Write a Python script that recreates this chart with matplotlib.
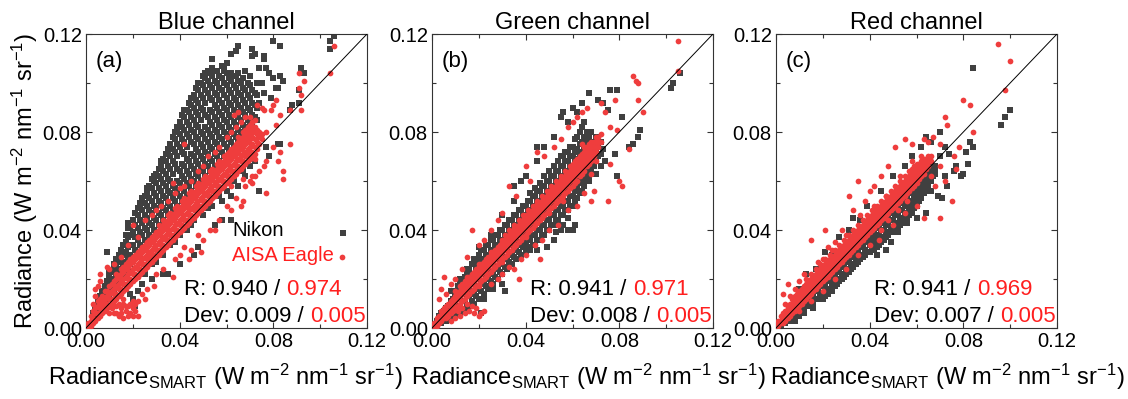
import matplotlib
matplotlib.use('Agg')
import matplotlib.pyplot as plt
import numpy as np
from matplotlib.ticker import MultipleLocator

plt.rcParams['font.family'] = ['Liberation Sans', 'DejaVu Sans']
plt.rcParams['mathtext.default'] = 'regular'

# ---------------- data (values in 1e-3 W m-2 nm-1 sr-1) ----------------
titles = ["Blue channel", "Green channel", "Red channel"]
panel_labels = ["(a)", "(b)", "(c)"]
r_nikon = ["0.940", "0.941", "0.941"]
r_aisa = ["0.974", "0.971", "0.969"]
dev_nikon = ["0.009", "0.008", "0.007"]
dev_aisa = ["0.005", "0.005", "0.005"]
tick_values = [0.00, 0.04, 0.08, 0.12]
tick_labels = ["0.00", "0.04", "0.08", "0.12"]

# ---- (a) Blue channel ----
blue_nikon_cols = [
 (3,[4,6]),(4,[5,8]),(5,[6,9,11]),(6,[8,11,13]),(7,[9,12,15]),(8,[10,14,17]),(9,[12,16,19,31]),
 (10,[13,17,21,23]),(11,[15,19,23]),(12,[16,20,24,26]),(13,[17,21,25,28]),(14,[19,23,27,30]),
 (15,[20,24,28,32]),(16,[22,26,30,34]),(17,[23,27,31,35,38]),(18,[25,29,33,37,41,43]),
 (19,[26,30,34,38,41]),(20,[29,34,39,44]),(21,[32,37,42,47]),(22,[31,36,41,46,49]),
 (23,[34,39,44,49,51]),(24,[33,38,43,48,53]),(25,[36,41,46,51,54]),(26,[35,40,45,50,55,57]),
 (27,[38,43,48,53,58]),(28,[37,42,47,52,57,61]),(29,[40,45,50,55,60,62]),(30,[39,44,49,54,59,63]),
 (31,[42,47,52,57,62,65]),(32,[41,46,51,56,61,66,68]),(33,[44,49,54,59,64,69]),
 (34,[43,48,53,58,63,68,71]),(35,[46,51,56,61,66,71,73]),(36,[45,50,55,60,65,70,75]),
 (37,[48,53,58,63,68,73,78]),(38,[47,52,57,67,72,77,80]),(39,[50,55,60,65,70,75,80,82]),
 (40,[49,54,59,64,74,79,84]),(41,[52,57,62,67,72,77,82,87]),(42,[51,56,61,66,71,76,81,86,89]),
 (43,[54,59,64,69,74,79,84,89]),(44,[53,58,63,68,78,83,88,92]),(45,[56,61,66,71,76,81,86,91,94]),
 (46,[55,60,65,70,75,80,85,90,95]),(47,[58,63,68,73,78,83,88,93,98]),(48,[57,62,67,72,77,82,87,92,97,100]),
 (49,[60,65,70,75,80,85,90,95,100]),(50,[59,64,69,74,79,89,94,99,103]),
 (51,[62,67,72,77,82,87,92,97,102,104]),(52,[61,66,71,76,81,86,96,101,105]),
 (53,[64,69,74,79,84,89,94,99,104]),(54,[63,68,73,78,83,88,93,98,103,106]),
 (55,[66,71,76,81,86,91,96,101,105]),(56,[65,70,75,80,85,90,95,100,105]),(57,[68,73,78,83,88,93,98,103]),
 (58,[67,72,77,82,87,92,97,102,107]),(59,[70,75,80,85,90,95,100,105]),(60,[69,74,79,84,89,94,99,104,108]),
 (61,[72,77,82,87,92,97,102]),(62,[71,76,81,86,91,96,101,104,112]),(63,[74,79,84,89,94,99,103]),
 (64,[73,78,83,88,93,98,103,113]),(65,[76,81,86,91,96,101,104,115]),(66,[75,80,85,90,95,100]),
 (67,[78,83,88,93,98,102]),(68,[77,82,87,92,97]),(69,[80,85,90,95,100]),(70,[79,84,89,94,99,103]),
 (71,[82,87,92,97]),(72,[81,86,91,96]),(73,[85,90,95,100])]
blue_nikon_extra = [
 (20,12),(21,9),(19,14),(22,15),(25,22),(28,26),(33,22),(33,30),(36,34),(40,38),(43,40),(46,44),(50,46),
 (54,50),(58,52),(60,56),(62,54),(65,58),(68,62),(70,66),(72,68),(58,44),(62,44),(55,42),(46,30),(48,33),
 (40,26),(35,22),(28,20),(24,18),(74,56),(78,70),(83,75),(30,27),(38,35),(45,42),(52,49),(57,54),(63,60),
 (67,64),(80,117),(83,115),(71,114),(72,112),(76,111),(71,111),(76,110),(74,106),(77,106),(78,104),
 (80,102),(83,103),(84,101),(82,98),(81,98),(92,106),(93,104),(91,97),(91,92),(88,91),(87,89),(82,75),
 (77,74),(79,94),(104,117),(104,114),(106,119),(54,110),(59,107),(68,105),(75,100),(76,96),(74,92)]

blue_aisa_cols = [
 (1,[1,2]),(2,[1,3,5]),(3,[2,4,7]),(4,[3,6,8]),(5,[4,6,9,11]),(6,[5,8,10,12]),(7,[6,8,11,13]),
 (8,[7,10,12,15]),(9,[8,10,13,15]),(10,[9,12,14,17]),(11,[10,12,15,18]),(12,[11,14,16,19]),
 (13,[12,14,17,20,22]),(14,[13,16,18,21]),(15,[14,16,19,22,24]),(16,[15,18,20,23,25]),
 (17,[16,18,21,24,26]),(18,[17,20,22,25,27]),(19,[18,20,23,26,28]),(20,[19,22,24,27,29]),
 (21,[20,22,25,28,30]),(22,[21,24,26,29,31]),(23,[22,24,27,30,32]),(24,[23,26,28,31,33]),
 (25,[24,26,29,32,34]),(26,[25,28,30,33,35]),(27,[26,28,31,34,36]),(28,[27,30,32,35,37]),
 (29,[28,30,33,36,38]),(30,[29,32,34,37,39]),(31,[30,32,35,38,40,42]),(32,[31,34,36,39,41]),
 (33,[32,34,37,40,42,44]),(34,[33,36,38,41,43]),(35,[34,36,39,42,44,46]),(36,[35,38,40,43,45,47]),
 (37,[36,38,41,44,46]),(38,[37,40,42,45,47,49]),(39,[38,40,43,46,48,50]),(40,[39,42,44,47,49]),
 (41,[40,42,45,48,50,52]),(42,[41,44,46,49,51,53]),(43,[42,44,47,50,52]),(44,[43,46,48,51,53,55]),
 (45,[44,46,49,52,54,56]),(46,[45,48,50,53,55]),(47,[46,48,51,54,56,58]),(48,[47,50,52,55,57,59]),
 (49,[48,50,53,56,58]),(50,[49,52,54,57,59,61]),(51,[50,52,55,58,60,62]),(52,[51,54,56,59,61]),
 (53,[52,54,57,60,62,64]),(54,[53,56,58,61,63,65]),(55,[54,56,59,62,64]),(56,[55,58,60,63,65,67]),
 (57,[56,58,61,64,66,68]),(58,[57,60,62,65,67]),(59,[58,60,63,66,68,70]),(60,[59,62,64,67,69,71]),
 (61,[60,62,65,68,70,72]),(62,[61,64,66,69,71,73]),(63,[62,64,67,70,72,74]),(64,[63,66,68,71,73,75]),
 (65,[64,66,69,72,74,76,78]),(66,[65,68,70,73,75,77]),(67,[66,68,71,74,76,78,80]),
 (68,[67,70,72,75,77,79,81]),(69,[68,70,73,76,78,80,82]),(70,[69,72,74,77,79,81,83]),
 (71,[70,72,75,78,80,82,84]),(72,[71,74,77,80,82,85]),(73,[73,76,79,81]),(74,[75,78,80]),(75,[77,79])]
blue_aisa_extra = [
 (3,10),(4,13),(5,17),(4,16),(6,22),(6,19),(9,25),(10,24),(12,26),(15,29),(18,34),(20,42),(22,37),(25,44),
 (28,46),(30,48),(32,50),(35,52),(37,59),(38,55),(40,57),(42,75),(42,58),(45,60),(48,64),(50,66),(52,70),
 (55,72),(57,74),(60,78),(62,80),(63,87),(64,82),(66,84),(68,86),(70,86),(65,88),(75,90),(73,91),
 (14,5),(15,8),(16,10),(17,7),(18,9),(19,6),(20,8),(21,7),(22,5),(12,6),(13,9),(10,6),(11,8),(16,4),(18,5),
 (20,5),(13,6),(15,6),(17,9),(19,10),(21,10),(14,10),(16,12),(20,11),(22,11),(24,14),(26,16),(25,12),
 (29,17),(30,22),(33,24),(37,21),(38,28),(40,30),(42,33),(44,28),(45,32),(49,31),(48,38),(50,36),(53,40),
 (55,40),(57,44),(60,50),(62,48),(64,53),(66,50),(68,58),(70,60),(72,62),(74,64),(76,66),(77,55),(71,59),
 (67,52),(71,62),(84,64),(84,61),(87,75),(83,72),(80,74),(82,68),(77,68),(62,58),
 (91,104),(93,101),(91,98),(92,95),(92,89),(87,89),(81,93),(80,91),(79,89),(83,87),(76,89),(77,80),
 (81,83),(104,104),(106,115),(72,69),(67,61)]

# ---- (b) Green channel ----
green_nikon_cols = [
 (2,[1,3]),(3,[2,5]),(4,[2,6]),(5,[3,7]),(6,[3,8]),(7,[4,9]),(8,[4,7,11]),(9,[5,8,12]),(10,[5,8,13,15]),
 (11,[6,9,15,17]),(12,[6,9,15,18]),(13,[7,11,17,20]),(14,[7,11,18,21]),(15,[9,13,20,23]),(16,[9,13,20,24]),
 (17,[11,15,22,26]),(18,[10,14,22,26,28]),(19,[13,17,24,28]),(20,[12,16,26,30]),(21,[15,19,28,32]),
 (22,[14,18,28,32]),(23,[17,21,30,34]),(24,[16,20,30,34]),(25,[19,23,32,36]),(26,[18,22,32,36]),
 (27,[21,25,34,38]),(28,[20,24,34,38]),(29,[23,27,36,40]),(30,[22,26,36,40]),(31,[25,29,38,42]),
 (32,[24,28,38,42]),(33,[27,31,40,44]),(34,[26,30,40,44]),(35,[29,33,42,46]),(36,[28,32,42,46]),
 (37,[31,35,44,48]),(38,[30,34,44,48]),(39,[33,37,46,50]),(40,[31,35,39,46,50]),(41,[33,37,41,48,52]),
 (42,[32,36,40,48,52,55]),(43,[34,38,42,50,54]),(44,[34,38,42,50,54,57]),(45,[36,40,44,52,56]),
 (46,[36,40,44,52,56,59]),(47,[38,42,46,54,58]),(48,[38,42,46,54,58,62]),(49,[40,44,48,56,60]),
 (50,[40,44,48,56,60,64]),(51,[42,46,50,58,62]),(52,[42,46,50,58,62,66]),(53,[44,48,52,60,64]),
 (54,[44,48,52,60,64,68]),(55,[46,50,54,62,66,70]),(56,[46,50,54,62,66,70]),(57,[48,52,56,64,68,72]),
 (58,[48,52,56,64,68,72]),(59,[50,54,58,66,70,74]),(60,[50,54,58,66,70,74]),(61,[52,56,60,68,72,77]),
 (62,[53,57,61,69,73,78]),(63,[55,59,63,71,75,80]),(64,[56,60,64,72,76,82]),(65,[58,62,66,74,78,84]),
 (66,[60,64,68,76,80]),(67,[62,66,70,78]),(68,[64,68,72,80]),(69,[66,70,76]),(70,[68,72,78]),
 (71,[70,74]),(72,[71,76])]
green_nikon_extra = [
 (8,15),(12,20),(15,24),(20,33),(25,38),(30,46),(35,52),(35,58),(38,60),(40,62),(45,68),(45,74),
 (48,74),(52,78),(55,86),(56,88),(58,84),(60,90),(62,88),(64,92),(65,84),(67,96),(76,97),(79,97),(71,93),
 (73,92),(75,89),(81,86),(89,81),(88,78),(86,75),(84,74),(78,71),(79,62),(73,73),(102,98),(103,100),
 (106,104),(58,40),(60,40),(61,42),(55,40),(52,36),(49,33),(45,32),(31,15),(30,18),(26,16),(21,6),(22,12),
 (18,10),(67,60),(70,63),(74,68),(72,66),(58,45),(64,55),(56,42),(53,39)]

green_aisa_cols = [
 (1,[1,2]),(2,[1,3,4]),(3,[2,4,5]),(4,[3,5,7]),(5,[4,6,8]),(6,[4,6,9]),(7,[5,7,10]),(8,[6,8,11]),
 (9,[7,10,12]),(10,[8,11,13]),(11,[9,12,14]),(12,[10,13,15,17]),(13,[11,14,16,18]),(14,[12,15,17,19]),
 (15,[13,16,18,20]),(16,[14,17,19,21]),(17,[15,18,20,22]),(18,[16,19,21,23]),(19,[17,20,22,24]),
 (20,[18,21,23,25]),(21,[19,22,24,26]),(22,[20,23,25,27]),(23,[21,24,26,28]),(24,[22,25,27,29]),
 (25,[23,26,28,30]),(26,[24,27,29,31]),(27,[25,28,30,32]),(28,[26,29,31,33]),(29,[27,30,32,34]),
 (30,[28,31,33,35]),(31,[29,32,34,36,38]),(32,[30,33,35,37]),(33,[31,34,36,38,40]),(34,[32,35,37,39]),
 (35,[33,36,38,40,42]),(36,[34,37,39,41]),(37,[35,38,40,42,44]),(38,[36,39,41,43]),(39,[37,40,42,44,46]),
 (40,[38,41,43,45]),(41,[39,42,44,46,48]),(42,[40,43,45,47]),(43,[41,44,46,48,50]),(44,[42,45,47,49]),
 (45,[43,46,48,50,52]),(46,[44,47,49,51]),(47,[45,48,50,52,54]),(48,[46,49,51,53]),(49,[47,50,52,54,56]),
 (50,[48,51,53,55]),(51,[49,52,54,56,58]),(52,[50,53,55,57]),(53,[51,54,56,58,60]),(54,[52,55,57,59]),
 (55,[53,56,58,60,62]),(56,[54,57,59,61]),(57,[55,58,60,62,64]),(58,[56,59,61,63]),(59,[57,60,62,64,66]),
 (60,[58,61,63,65,67]),(61,[59,62,64,66,68]),(62,[60,63,65,67,69]),(63,[62,64,66,68,70]),
 (64,[63,65,67,69,71]),(65,[64,66,68,70,72,74]),(66,[66,68,70,72,74]),(67,[67,69,71,73,75]),
 (68,[68,70,72,74,76]),(69,[70,72,74,76]),(70,[72,74,76,78]),(71,[74,76,78]),(72,[76,79])]
green_aisa_extra = [
 (3,12),(4,16),(5,21),(6,14),(8,18),(10,20),(13,24),(17,40),(15,29),(20,34),(22,36),(25,40),(28,44),(30,47),
 (33,58),(36,54),(40,66),(42,60),(45,72),(48,70),(52,74),(55,77),(58,82),(60,84),(62,86),(64,88),(66,90),
 (86,103),(88,100),(87,101),(88,93),(90,88),(78,93),(76,82),(79,81),(84,73),(80,60),(81,58),(75,52),
 (68,52),(69,56),(76,67),(68,63),(70,68),(105,105),(105,117),(74,88),(72,92),
 (8,3),(10,4),(12,5),(14,6),(16,7),(18,6),(20,5),(21,6),(22,7),(19,8),(17,9),(15,10),(13,8),(11,7),(25,18),
 (28,20),(30,22),(33,25),(37,20),(35,24),(38,28),(40,30),(44,34),(46,28),(47,36),(50,40),(54,42),(58,48),
 (62,50),(65,55),(10,15),(15,21),(20,26),(25,31),(30,36),(35,41),(40,46),(45,51),(50,56),(55,61),(60,66),
 (64,75),(20,17),(30,27),(40,37),(50,47),(56,52)]

# ---- (c) Red channel ----
red_nikon_cols = [
 (1,[1]),(2,[1,2]),(3,[2,3]),(4,[2,4]),(5,[3,4]),(6,[3,5]),(7,[4,6]),(8,[4,6]),(9,[5,7]),(10,[5,8]),
 (11,[7,9]),(12,[7,10]),(13,[9,11]),(14,[9,12]),(15,[10,13]),(16,[10,14]),(17,[12,15]),(18,[12,16]),
 (19,[14,17]),(20,[14,18]),(21,[13,17,19]),(22,[14,16,20]),(23,[15,19,21]),(24,[16,18,22]),(25,[17,21,23]),
 (26,[18,20,24]),(27,[19,23,25]),(28,[20,22,26]),(29,[21,25,27]),(30,[22,24,28]),(31,[23,27,29]),
 (32,[24,26,30]),(33,[25,29,31]),(34,[26,28,32]),(35,[27,31,33]),(36,[28,30,34]),(37,[29,33,35]),
 (38,[30,32,36]),(39,[31,35,37]),(40,[31,34,38]),(41,[32,35,37,39]),(42,[32,34,36,40]),(43,[33,36,38,41]),
 (44,[34,35,38,42]),(45,[35,37,40,43]),(46,[36,37,40,44]),(47,[37,39,42,45]),(48,[38,39,42,46]),
 (49,[39,41,44,47]),(50,[39,41,44,48]),(51,[40,43,46,49]),(52,[41,43,46,50]),(53,[42,45,48,51]),
 (54,[43,45,48,52]),(55,[44,47,50,53]),(56,[45,47,50,54]),(57,[46,49,52,55]),(58,[47,49,52,56]),
 (59,[49,51,54,57]),(60,[50,52,55,58]),(61,[52,54,57,59]),(62,[53,56,58,60]),(63,[55,58,61]),
 (64,[56,59,62]),(65,[58,61,63]),(66,[60,62,64]),(67,[62,64,66]),(68,[63,66])]
red_nikon_extra = [
 (8,3),(12,6),(16,8),(20,12),(24,15),(28,20),(32,24),(36,28),(40,31),(44,35),(48,38),(52,42),(56,46),
 (60,50),(43,30),(47,32),(49,35),(52,39),(56,43),(60,45),(64,47),(62,55),(66,56),(69,54),(71,53),(73,58),
 (72,62),(76,64),(77,66),(80,63),(82,67),(84,74),(83,76),(81,72),(79,62),(65,60),(68,64),(70,70),(74,71),
 (72,74),(60,54),(57,50),(10,16),(13,22),(17,24),(21,31),(24,30),(27,37),(31,40),(33,45),(36,44),(39,50),
 (45,56),(50,62),(55,66),(58,70),(62,74),(64,78),(66,76),(70,80),(84,106),(100,89),(98,86),(96,83)]

red_aisa_cols = [
 (1,[1,2,3]),(2,[2,3,5]),(3,[2,4,6]),(4,[3,5,7]),(5,[4,6,8,9]),(6,[5,7,9,10]),(7,[6,8,10,12]),
 (8,[7,9,11,13]),(9,[8,10,12,14]),(10,[9,11,13,15]),(11,[10,12,14,16]),(12,[11,13,15,17]),
 (13,[12,14,16,18,20]),(14,[13,15,17,19]),(15,[14,16,18,20,22]),(16,[15,17,19,21]),(17,[16,18,20,22,24]),
 (18,[17,19,21,23]),(19,[18,20,22,24,26]),(20,[19,21,23,25]),(21,[20,22,24,26,28]),(22,[21,23,25,27]),
 (23,[22,24,26,28,30]),(24,[23,25,27,29]),(25,[24,26,28,30,32]),(26,[25,27,29,31]),(27,[26,28,30,32,34]),
 (28,[27,29,31,33]),(29,[28,30,32,34,36]),(30,[29,31,33,35]),(31,[30,32,34,36,38]),(32,[31,33,35,37]),
 (33,[32,34,36,38,40]),(34,[33,35,37,39]),(35,[34,36,38,40,42]),(36,[35,37,39,41]),(37,[36,38,40,42,44]),
 (38,[37,39,41,43]),(39,[38,40,42,44,46]),(40,[39,41,43,45]),(41,[40,42,44,46,48]),(42,[41,43,45,47]),
 (43,[42,44,46,48,50]),(44,[43,45,47,49]),(45,[44,46,48,50,52]),(46,[45,47,49,51]),(47,[46,48,50,52,54]),
 (48,[47,49,51,53]),(49,[48,50,52,54,56]),(50,[49,51,53,55]),(51,[50,52,54,56,58]),(52,[51,53,55,57]),
 (53,[52,54,56,58,60]),(54,[53,55,57,59]),(55,[54,56,58,60,62]),(56,[55,57,59,61]),(57,[56,58,60,62,64]),
 (58,[57,59,61,63,65]),(59,[58,60,62,64,66]),(60,[59,61,63,65,67]),(61,[61,63,65,67]),(62,[62,64,66,68]),
 (63,[63,65,67,69]),(64,[65,67,69]),(65,[66,68,70]),(66,[68,70])]
red_aisa_extra = [
 (4,10),(6,13),(3,14),(5,18),(8,16),(10,19),(12,22),(15,36),(21,40),(18,27),(22,33),(25,35),(28,40),(31,54),
 (35,60),(33,48),(38,52),(40,56),(42,58),(45,62),(48,66),(51,74),(55,77),(58,75),(63,77),(72,86),(73,83),
 (80,93),(83,91),(84,80),(95,116),(100,109),(98,97),(78,74),(76,70),(77,65),(75,52),(70,45),(63,45),(68,58),
 (66,62),(70,66),(72,60),(60,50),(55,47),(50,42),(45,40),(40,34),(35,30),(30,24),(25,20),(20,15),(15,11),
 (10,7),(44,36),(48,44),(52,48),(56,52),(20,28),(24,32),(30,38),(36,46),(42,50),(47,54),(53,62),(58,68),
 (62,70),(65,76),(67,78),(70,75)]

nikon_cols = [blue_nikon_cols, green_nikon_cols, red_nikon_cols]
nikon_extra = [blue_nikon_extra, green_nikon_extra, red_nikon_extra]
aisa_cols = [blue_aisa_cols, green_aisa_cols, red_aisa_cols]
aisa_extra = [blue_aisa_extra, green_aisa_extra, red_aisa_extra]


def to_xy(cols, extra):
    xs, ys = [], []
    for x, col in cols:
        for y in col:
            xs.append(x)
            ys.append(y)
    for x, y in extra:
        xs.append(x)
        ys.append(y)
    return np.array(xs) / 1000.0, np.array(ys) / 1000.0


# ---------------- styling ----------------
GRAY = '#404040'
RED = '#ef3d3d'
TXT_RED = '#ff1f1f'

fig = plt.figure(figsize=(11.28, 3.99), dpi=100)
lefts = [86/1128, 432/1128, 776/1128]
w = 281/1128
b = 1 - 328/399
h = (328-34)/399
xlabel_pos = [0.495, 0.557, 0.61]

axes = []
for i in range(3):
    ax = fig.add_axes([lefts[i], b, w, h])
    axes.append(ax)
    gx, gy = to_xy(nikon_cols[i], nikon_extra[i])
    ax.scatter(gx, gy, marker='s', s=19, color=GRAY, linewidths=0, zorder=2)
    rx, ry = to_xy(aisa_cols[i], aisa_extra[i])
    ax.scatter(rx, ry, marker='o', s=17, color=RED, linewidths=0, zorder=3)
    ax.plot([0, 0.12], [0, 0.12], color='black', lw=0.7, zorder=4)

    ax.set_xlim(0, 0.12)
    ax.set_ylim(0, 0.12)
    ax.set_xticks(tick_values)
    ax.set_xticklabels(tick_labels)
    ax.set_yticks(tick_values)
    ax.set_yticklabels(tick_labels)
    ax.xaxis.set_minor_locator(MultipleLocator(0.02))
    ax.yaxis.set_minor_locator(MultipleLocator(0.02))
    ax.tick_params(which='both', direction='in', top=True, right=True,
                   labelsize=14.5, pad=3, width=0.8, color='#333333')
    ax.tick_params(which='major', length=4)
    ax.tick_params(which='minor', length=3)
    for s in ax.spines.values():
        s.set_linewidth(0.8)
        s.set_color('#333333')

    ax.set_title(titles[i], fontsize=17, pad=3)
    ax.text(0.035, 0.905, panel_labels[i], transform=ax.transAxes,
            fontsize=16, ha='left', va='center')
    ax.set_xlabel(r'Radiance$_{SMART}$ (W m$^{-2}$ nm$^{-1}$ sr$^{-1}$)',
                  fontsize=17, labelpad=8)
    ax.xaxis.label.set_x(xlabel_pos[i])

    t1 = ax.text(0.35, 0.112, "R: " + r_nikon[i] + " / ", transform=ax.transAxes,
                 fontsize=16, ha='left', va='baseline', zorder=6)
    ax.annotate(r_aisa[i], xy=(1, 0), xycoords=t1, fontsize=16, color=TXT_RED,
                ha='left', va='bottom', zorder=6)
    t2 = ax.text(0.35, 0.02, "Dev: " + dev_nikon[i] + " / ", transform=ax.transAxes,
                 fontsize=16, ha='left', va='baseline', zorder=6)
    ax.annotate(dev_aisa[i], xy=(1, 0), xycoords=t2, fontsize=16, color=TXT_RED,
                ha='left', va='bottom', zorder=6)

axes[0].set_ylabel(r'Radiance (W m$^{-2}$ nm$^{-1}$ sr$^{-1}$)', fontsize=17, labelpad=2)

# legend in panel (a)
ax = axes[0]
ax.text(0.52, 0.331, "Nikon", transform=ax.transAxes, fontsize=14.5,
        ha='left', va='center', color='black', zorder=6)
ax.text(0.52, 0.247, "AISA Eagle", transform=ax.transAxes, fontsize=14.5,
        ha='left', va='center', color=TXT_RED, zorder=6)
ax.scatter([0.915], [0.323], marker='s', s=19, color=GRAY, linewidths=0,
           transform=ax.transAxes, zorder=6)
ax.scatter([0.91], [0.242], marker='o', s=17, color=RED, linewidths=0,
           transform=ax.transAxes, zorder=6)

fig.savefig('out.png', dpi=100)
